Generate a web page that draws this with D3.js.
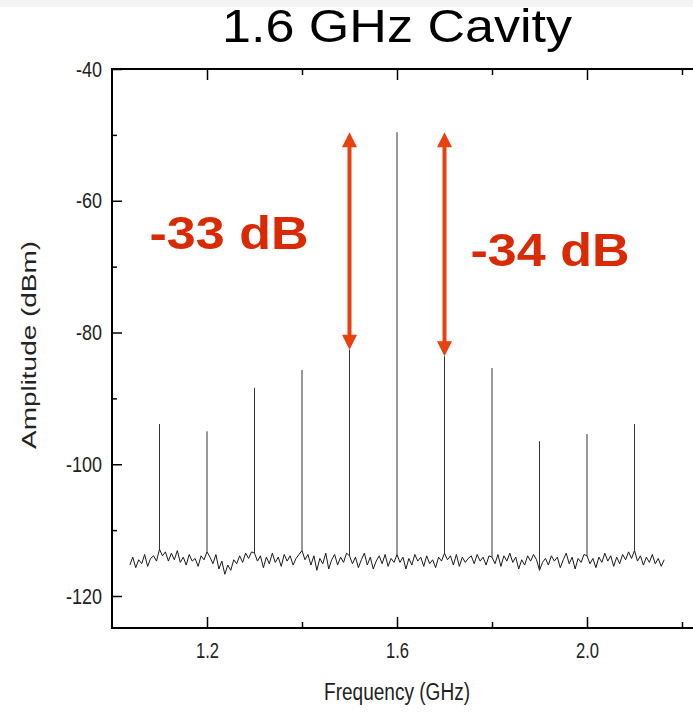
<!DOCTYPE html>
<html>
<head>
<meta charset="utf-8">
<script src="https://cdn.jsdelivr.net/npm/d3@7"></script>
<style>
  html, body { margin: 0; padding: 0; background: #fff; }
  svg { display: block; }
  text { font-family: "Liberation Sans", Arial, sans-serif; }
</style>
</head>
<body>
<svg id="chart" width="693" height="712"></svg>
<script>
// Spectrum analyser trace of the 1.6 GHz cavity output

// Frequencies of the comb lines (GHz) and their peak amplitudes (dBm)
const peakFreqs = [1.1, 1.2, 1.3, 1.4, 1.5, 1.6, 1.7, 1.8, 1.9, 2.0, 2.1];
const peakAmps  = [-93.9, -95.0, -88.4, -85.7, -82.6, -49.6, -83.6, -85.4, -96.5, -95.4, -93.9];

// Noise floor samples, starting at 1.0375 GHz with a 6.25 MHz step
const noiseStart = 1.0375;
const noiseStep = 0.00625;
const noiseFloor = [
  -115.3,-114.1,-115.7,-114.5,-115.1,-113.7,-115.5,-114.3,-113.9,-114.7,
  -112.9,-113.9,-113.3,-114.7,-113.5,-114.5,-113.1,-114.9,-114.1,-115.3,-113.7,-114.7,-114.3,-115.5,-113.9,-114.5,
  -113.3,-114.1,-115.1,-113.7,-115.9,-114.7,-116.7,-115.3,-116.1,-114.5,-115.1,-113.9,-114.9,-113.5,-114.3,-113.3,
  -113.5,-114.7,-113.9,-115.7,-114.1,-115.1,-113.5,-114.9,-114.1,-115.5,-113.7,-114.7,-113.9,-115.3,-114.3,-113.7,
  -113.1,-114.5,-113.7,-115.3,-113.9,-116.1,-114.3,-115.1,-113.5,-115.9,-114.5,-113.7,-115.3,-114.1,-114.9,-113.5,
  -113.9,-115.1,-114.1,-115.7,-114.5,-113.5,-115.3,-114.1,-115.9,-114.7,-113.9,-115.1,-113.7,-115.5,-114.3,-114.9,
  -113.7,-114.9,-114.1,-115.9,-114.3,-115.3,-113.7,-114.7,-114.1,-115.5,-113.9,-115.1,-114.5,-115.7,-114.1,-114.7,
  -113.5,-114.5,-113.9,-115.3,-113.7,-115.5,-114.1,-114.9,-114.3,-113.9,-115.1,-113.7,-114.7,-114.1,-115.3,-113.9,
  -114.1,-115.1,-113.7,-115.5,-113.9,-114.7,-113.5,-114.9,-114.1,-115.9,-114.5,-115.3,-113.9,-114.7,-113.7,-114.5,
  -116.1,-114.9,-114.3,-115.3,-113.9,-114.7,-114.1,-115.7,-114.5,-113.5,-115.1,-114.1,-115.9,-114.3,-114.9,-113.7,
  -113.9,-115.1,-114.3,-115.7,-114.1,-114.9,-113.5,-114.7,-113.9,-115.5,-114.1,-115.1,-113.7,-114.5,-113.3,-114.3,
  -113.1,-114.7,-113.9,-115.3,-114.1,-114.9,-113.7,-115.1,-114.3,-115.5,-114.5
];

// Axis ticks
const xMajorTicks = [1.2, 1.6, 2.0];
const xMinorTicks = [1.4, 1.8, 2.2];
const yMajorTicks = [-120, -100, -80, -60, -40];
const yMinorTicks = [-110, -90, -70, -50];

// Sideband suppression annotations
const annotations = [
  { side: 4, label: "-33 dB" },
  { side: 6, label: "-34 dB" }
];
const mainIndex = 5;

const svg = d3.select("#chart");

// light band across the very top
svg.append("rect").attr("x", 0).attr("y", 0).attr("width", 693).attr("height", 7).attr("fill", "#f4f4f4");

const x = d3.scaleLinear().domain([1.0, 2.3]).range([112, 112 + 1.3 * 475]);
const y = d3.scaleLinear().domain([-120, -40]).range([596, 69]);
const yBottom = y.invert(628);
const frameL = x(1.0), frameR = x(2.3), frameT = y(-40), frameB = y(yBottom);

// Title
svg.append("text")
  .attr("x", 397).attr("y", 42)
  .attr("text-anchor", "middle")
  .attr("font-size", 46)
  .attr("fill", "#000")
  .attr("textLength", 350).attr("lengthAdjust", "spacingAndGlyphs")
  .text("1.6 GHz Cavity");

// Noise trace
const noisePts = noiseFloor.map((v, i) => [noiseStart + i * noiseStep, v]);
const line = d3.line().x(d => x(d[0])).y(d => y(d[1]));
svg.append("path")
  .datum(noisePts)
  .attr("d", line)
  .attr("fill", "none")
  .attr("stroke", "#1a1a1a")
  .attr("stroke-width", 1)
  .attr("stroke-linejoin", "round");

// Comb lines rising from the noise floor
const noiseAt = f => noiseFloor[Math.round((f - noiseStart) / noiseStep)];
svg.append("g").selectAll("line")
  .data(peakFreqs.map((f, i) => ({ f, a: peakAmps[i] })))
  .join("line")
  .attr("x1", d => x(d.f)).attr("x2", d => x(d.f))
  .attr("y1", d => y(noiseAt(d.f))).attr("y2", d => y(d.a))
  .attr("stroke", "#333")
  .attr("stroke-width", 1);

// Axes frame with inward ticks
const axisG = svg.append("g");
function styleTicks(g) {
  g.select(".domain").remove();
  g.selectAll(".tick line").attr("stroke", "#000").attr("stroke-width", 1.5);
  return g;
}
const fmtTick = d => String(d);

const gxb = styleTicks(axisG.append("g").attr("transform", `translate(0,${frameB})`)
  .call(d3.axisBottom(x).tickValues(xMajorTicks).tickSize(-11).tickFormat(d3.format(".1f"))));
gxb.selectAll(".tick text")
  .attr("font-size", 22).attr("fill", "#222")
  .attr("font-family", "Liberation Sans, Arial, sans-serif")
  .attr("y", 30).attr("dy", 0)
  .attr("textLength", 23).attr("lengthAdjust", "spacingAndGlyphs");

styleTicks(axisG.append("g").attr("transform", `translate(0,${frameB})`)
  .call(d3.axisBottom(x).tickValues(xMinorTicks).tickSize(-6).tickFormat("")));
styleTicks(axisG.append("g").attr("transform", `translate(0,${frameT})`)
  .call(d3.axisTop(x).tickValues(xMajorTicks).tickSize(-11).tickFormat("")));
styleTicks(axisG.append("g").attr("transform", `translate(0,${frameT})`)
  .call(d3.axisTop(x).tickValues(xMinorTicks).tickSize(-6).tickFormat("")));

const gy = styleTicks(axisG.append("g").attr("transform", `translate(${frameL},0)`)
  .call(d3.axisLeft(y).tickValues(yMajorTicks).tickSize(-10).tickFormat(fmtTick)));
gy.selectAll(".tick text")
  .attr("font-size", 22).attr("fill", "#222")
  .attr("font-family", "Liberation Sans, Arial, sans-serif")
  .attr("x", -10)
  .attr("textLength", d => d <= -100 ? 36 : 26).attr("lengthAdjust", "spacingAndGlyphs");
styleTicks(axisG.append("g").attr("transform", `translate(${frameL},0)`)
  .call(d3.axisLeft(y).tickValues(yMinorTicks).tickSize(-5).tickFormat("")));

// frame
axisG.append("path")
  .attr("d", `M${frameR},${frameT}H${frameL}V${frameB}H${frameR}`)
  .attr("fill", "none").attr("stroke", "#000").attr("stroke-width", 2);

// Axis titles
svg.append("text")
  .attr("x", 397).attr("y", 700)
  .attr("text-anchor", "middle")
  .attr("font-size", 23).attr("fill", "#222")
  .attr("textLength", 146).attr("lengthAdjust", "spacingAndGlyphs")
  .text("Frequency (GHz)");

svg.append("text")
  .attr("transform", "translate(36,345) rotate(-90)")
  .attr("text-anchor", "middle")
  .attr("font-size", 21).attr("fill", "#222")
  .attr("textLength", 208).attr("lengthAdjust", "spacingAndGlyphs")
  .text("Amplitude (dBm)");

// Suppression arrows
const arrowColor = "#e8400e";
const headW = 15, headH = 15;
annotations.forEach(a => {
  const ax = x(peakFreqs[a.side]);
  const y0 = y(peakAmps[mainIndex]);
  const y1 = y(peakAmps[a.side]);
  svg.append("line")
    .attr("x1", ax).attr("x2", ax)
    .attr("y1", y0 + headH - 2).attr("y2", y1 - headH + 2)
    .attr("stroke", arrowColor).attr("stroke-width", 4);
  svg.append("path")
    .attr("d", `M${ax},${y0}L${ax - headW / 2},${y0 + headH}L${ax + headW / 2},${y0 + headH}Z`)
    .attr("fill", arrowColor);
  svg.append("path")
    .attr("d", `M${ax},${y1}L${ax - headW / 2},${y1 - headH}L${ax + headW / 2},${y1 - headH}Z`)
    .attr("fill", arrowColor);
});

// Suppression labels
const labelPos = [[229, 249], [550, 266]];
annotations.forEach((a, i) => {
  svg.append("text")
    .attr("x", labelPos[i][0]).attr("y", labelPos[i][1])
    .attr("text-anchor", "middle")
    .attr("font-size", 46).attr("font-weight", "bold")
    .attr("fill", "#d92a04")
    .attr("textLength", 159).attr("lengthAdjust", "spacingAndGlyphs")
    .text(a.label);
});
</script>
</body>
</html>
